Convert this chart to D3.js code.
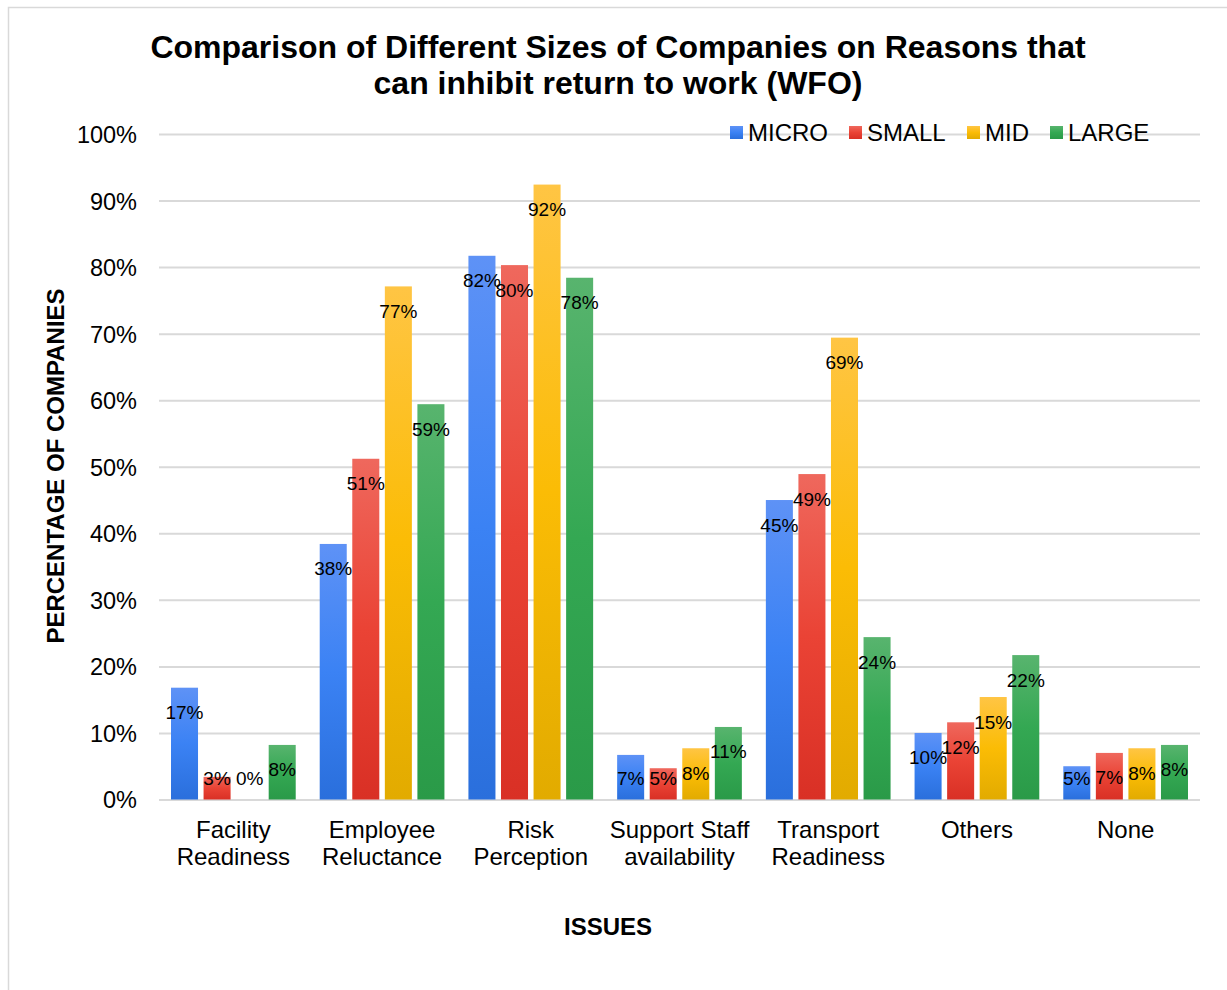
<!DOCTYPE html>
<html>
<head>
<meta charset="utf-8">
<script src="https://cdn.jsdelivr.net/npm/d3@7"></script>
<style>
  html, body { margin: 0; padding: 0; background: #fff; }
  svg { display: block; font-family: Arial, "Liberation Sans", sans-serif; }
</style>
</head>
<body>
<div id="chart"></div>
<script>
// ─── Data ─────────────────────────────────────────────────────────────────────
const ISSUES = [
  'Facility Readiness', 'Employee Reluctance', 'Risk Perception',
  'Support Staff availability', 'Transport Readiness', 'Others', 'None'
];
// how each category label breaks onto lines
const ISSUE_LINES = [
  ['Facility', 'Readiness'], ['Employee', 'Reluctance'], ['Risk', 'Perception'],
  ['Support Staff', 'availability'], ['Transport', 'Readiness'], ['Others'], ['None']
];
const SIZES = ['MICRO', 'SMALL', 'MID', 'LARGE'];

const MICRO = [16.8, 38.4, 81.7, 6.7, 45.0, 10.0, 5.0];
const SMALL = [3.4, 51.2, 80.3, 4.7, 48.9, 11.6, 7.0];
const MID   = [0.0, 77.1, 92.4, 7.7, 69.4, 15.4, 7.7];
const LARGE = [8.2, 59.4, 78.4, 10.9, 24.4, 21.7, 8.2];

const Y_TICKS = [0, 10, 20, 30, 40, 50, 60, 70, 80, 90, 100];

// light top / base / darker bottom for each series
const COLORS = {
  MICRO: ['#5e92f6', '#3b82f4', '#2a6fdc'],
  SMALL: ['#ef685d', '#ea4335', '#d93025'],
  MID:   ['#ffc544', '#fbbc05', '#e2ab00'],
  LARGE: ['#58b46e', '#34a853', '#2a9a48'],
};

const SERIES = { MICRO, SMALL, MID, LARGE };

// ─── Layout ───────────────────────────────────────────────────────────────────
const W = 1227, H = 990;
const plot = { left: 159, right: 1200, top: 134, bottom: 799.5 };

const svg = d3.select('#chart').append('svg')
  .attr('width', W).attr('height', H)
  .attr('viewBox', `0 0 ${W} ${H}`);

// chart frame (runs off the right / bottom of the picture)
svg.append('rect')
  .attr('x', 8.5).attr('y', 7.5)
  .attr('width', W + 20).attr('height', H + 20)
  .attr('fill', '#fff').attr('stroke', '#d9d9d9').attr('stroke-width', 1.5);

// gradients
const defs = svg.append('defs');
for (const s of SIZES) {
  const g = defs.append('linearGradient')
    .attr('id', `grad-${s}`)
    .attr('x1', 0).attr('y1', 0).attr('x2', 0).attr('y2', 1);
  g.append('stop').attr('offset', '0%').attr('stop-color', COLORS[s][0]);
  g.append('stop').attr('offset', '50%').attr('stop-color', COLORS[s][1]);
  g.append('stop').attr('offset', '100%').attr('stop-color', COLORS[s][2]);
}

// ─── Scales ───────────────────────────────────────────────────────────────────
const x0 = d3.scaleBand().domain(ISSUES).range([plot.left, plot.right]).padding(0);
const x1 = d3.scaleBand().domain(SIZES)
  .range([12, x0.bandwidth() - 12]).paddingInner(0.17).paddingOuter(0);
const y = d3.scaleLinear().domain([0, 100]).range([plot.bottom, plot.top]);

// ─── Grid + y ticks ───────────────────────────────────────────────────────────
const yAxis = d3.axisLeft(y)
  .tickValues(Y_TICKS)
  .tickSize(-(plot.right - plot.left))
  .tickPadding(22)
  .tickFormat(d => d + '%');

const gy = svg.append('g')
  .attr('transform', `translate(${plot.left},0)`)
  .call(yAxis);
gy.select('.domain').remove();
gy.selectAll('.tick line').attr('stroke', '#d9d9d9').attr('stroke-width', 2);
gy.selectAll('.tick text')
  .attr('fill', '#000').attr('font-size', 23.5).attr('font-family', 'Arial, "Liberation Sans", sans-serif')
  .attr('dy', '0.36em');

// ─── Bars ─────────────────────────────────────────────────────────────────────
const rows = ISSUES.map((issue, i) => ({
  issue, vals: SIZES.map(s => ({ s, v: SERIES[s][i] }))
}));

const groups = svg.append('g').selectAll('g')
  .data(rows).join('g')
  .attr('transform', d => `translate(${x0(d.issue)},0)`);

groups.selectAll('rect')
  .data(d => d.vals).join('rect')
  .attr('x', d => x1(d.s))
  .attr('y', d => y(d.v))
  .attr('width', x1.bandwidth())
  .attr('height', d => y(0) - y(d.v))
  .attr('fill', d => `url(#grad-${d.s})`);

groups.selectAll('text')
  .data(d => d.vals).join('text')
  .attr('x', d => x1(d.s) + x1.bandwidth() / 2)
  .attr('y', d => Math.min(y(d.v) + 31.5, 784.5))
  .attr('text-anchor', 'middle')
  .attr('font-size', 19)
  .attr('fill', '#000')
  .text(d => Math.round(d.v) + '%');

// ─── Category labels ──────────────────────────────────────────────────────────
const cat = svg.append('g').selectAll('text')
  .data(ISSUES).join('text')
  .attr('x', d => x0(d) + x0.bandwidth() / 2)
  .attr('y', 838)
  .attr('text-anchor', 'middle')
  .attr('font-size', 24)
  .attr('fill', '#000');
cat.selectAll('tspan')
  .data((d, i) => ISSUE_LINES[i]).join('tspan')
  .attr('x', function() { return this.parentNode.getAttribute('x'); })
  .attr('dy', (d, i) => i === 0 ? 0 : 27)
  .text(d => d);

// ─── Titles ───────────────────────────────────────────────────────────────────
const title = svg.append('text')
  .attr('x', 618).attr('y', 58)
  .attr('text-anchor', 'middle')
  .attr('font-size', 32).attr('font-weight', 'bold').attr('fill', '#000');
title.append('tspan').attr('x', 618).text('Comparison of Different Sizes of Companies on Reasons that');
title.append('tspan').attr('x', 618).attr('dy', 36).text('can inhibit return to work (WFO)');

svg.append('text')
  .attr('transform', 'translate(64,466) rotate(-90)')
  .attr('text-anchor', 'middle')
  .attr('font-size', 24).attr('font-weight', 'bold').attr('fill', '#000')
  .text('PERCENTAGE OF COMPANIES');

svg.append('text')
  .attr('x', 608).attr('y', 935)
  .attr('text-anchor', 'middle')
  .attr('font-size', 24).attr('font-weight', 'bold').attr('fill', '#000')
  .text('ISSUES');

// ─── Legend ───────────────────────────────────────────────────────────────────
const LEGEND_X = [730, 849, 967, 1050];
const leg = svg.append('g').selectAll('g')
  .data(SIZES).join('g')
  .attr('transform', (d, i) => `translate(${LEGEND_X[i]},126)`);
leg.append('rect')
  .attr('width', 13).attr('height', 13)
  .attr('fill', d => `url(#grad-${d})`);
leg.append('text')
  .attr('x', 18).attr('y', 15)
  .attr('font-size', 24).attr('fill', '#000')
  .text(d => d);
</script>
</body>
</html>
